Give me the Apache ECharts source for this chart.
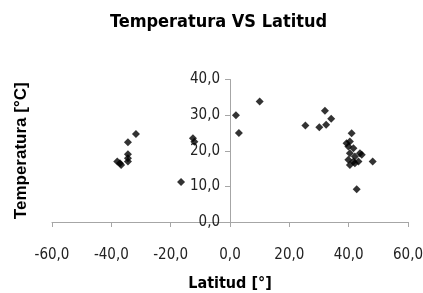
<!DOCTYPE html>
<html>
<head>
<meta charset="utf-8">
<script src="https://cdn.jsdelivr.net/npm/echarts@6/dist/echarts.min.js"></script>
<style>
  html, body { margin: 0; padding: 0; background: #fff; }
  #chart { width: 423px; height: 293px; }
</style>
</head>
<body>
<div id="chart"></div>
<script>
// latitud [°] y temperatura [°C]
const latitud = [
  -31.7, -34.4, -34.4, -34.4, -34.4, -38, -36.7, -37.1,
  -12.5, -12, -16.5,
  2, 3, 10,
  25.4, 30.1, 32, 32.4, 34.1,
  41, 40.4, 39.3, 39.9, 41.6, 43.8, 40.4, 42.1, 44.4, 39.9, 41.6, 43.3, 40.4, 42.1,
  48.1, 42.7
]
const temperatura = [
  24.7, 22.4, 19, 17.9, 17, 17, 16, 16.5,
  23.5, 22.5, 11.2,
  30, 25, 33.8,
  27.1, 26.6, 31.2, 27.3, 29,
  24.9, 22.6, 22.1, 21.2, 20.7, 19.3, 19.3, 18.4, 18.9, 17.5, 17, 17, 16, 16.5,
  17, 9.2
]
const xTicks = [-60, -40, -20, 0, 20, 40, 60]
const yTicks = [0, 10, 20, 30, 40]

const fmt = v => v.toFixed(1).replace('.', ',')
const narrow = '"DejaVu Sans Condensed", "Liberation Sans Narrow", "Liberation Sans", sans-serif'

const chart = echarts.init(document.getElementById('chart'))
chart.setOption({
  animation: false,
  title: {
    text: 'Temperatura VS Latitud',
    left: 105,
    top: 8,
    textStyle: { fontFamily: narrow, fontWeight: 'bold', fontSize: 18, color: '#000' }
  },
  grid: { left: 52, right: 15, top: 79.5, bottom: 71, containLabel: false, outerBoundsMode: 'none' },
  xAxis: {
    type: 'value',
    min: xTicks[0],
    max: xTicks[xTicks.length - 1],
    interval: 20,
    name: 'Latitud [°]',
    nameLocation: 'middle',
    nameGap: 54,
    nameTextStyle: { fontFamily: narrow, fontWeight: 'bold', fontSize: 16, color: '#000' },
    axisLine: { onZero: false, lineStyle: { color: '#a6a6a6' } },
    axisTick: { show: true, length: 5, lineStyle: { color: '#a6a6a6' } },
    axisLabel: { formatter: fmt, margin: 26, fontFamily: narrow, fontSize: 15, color: '#222' },
    splitLine: { show: false }
  },
  yAxis: {
    type: 'value',
    min: yTicks[0],
    max: yTicks[yTicks.length - 1],
    interval: 10,
    offset: -178,
    name: 'Temperatura [°C]',
    nameLocation: 'middle',
    nameRotate: 90,
    nameGap: 200,
    nameTextStyle: { fontFamily: '"Liberation Sans", sans-serif', fontWeight: 'bold', fontSize: 17, color: '#000' },
    axisLine: { show: true, onZero: false, lineStyle: { color: '#a6a6a6' } },
    axisTick: { show: true, length: 5, lineStyle: { color: '#a6a6a6' } },
    axisLabel: { formatter: fmt, margin: 10, fontFamily: narrow, fontSize: 15, color: '#222' },
    splitLine: { show: false }
  },
  series: [{
    type: 'scatter',
    symbol: 'diamond',
    symbolSize: 8,
    itemStyle: { color: '#000' },
    data: latitud.map((x, i) => [x, temperatura[i]])
  }]
})
</script>
</body>
</html>
